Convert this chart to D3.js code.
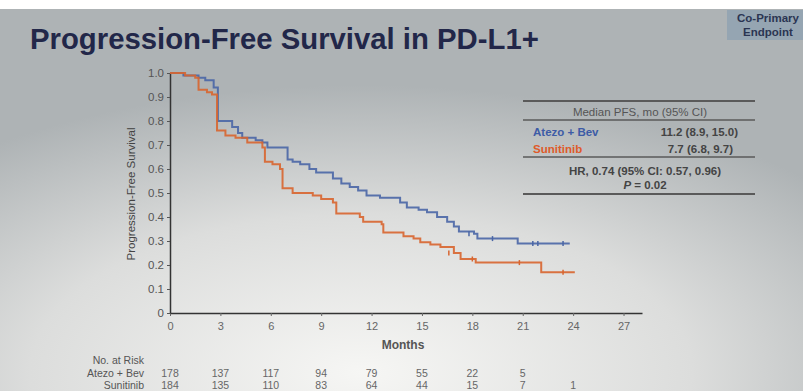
<!DOCTYPE html>
<html>
<head>
<meta charset="utf-8">
<script src="https://cdn.jsdelivr.net/npm/d3@7"></script>
<style>
  body { margin: 0; background: #fff; }
  svg { display: block; font-family: "Liberation Sans", Arial, sans-serif; }
</style>
</head>
<body>
<div id="chart"></div>
<script>
// KM steps: [month, survival after step]
var atezoSteps = [[0,1.0],[0.8,0.99],[1.7,0.98],[2.1,0.97],[2.6,0.94],[2.85,0.80],[3.7,0.775],[4.05,0.75],[4.3,0.73],
  [5.1,0.72],[5.5,0.71],[5.8,0.69],[7.0,0.64],[7.3,0.63],[7.75,0.62],[8.3,0.60],[8.7,0.585],[9.7,0.56],[10.2,0.54],
  [10.7,0.525],[11.2,0.51],[11.7,0.49],[12.5,0.48],[13.7,0.46],[14.1,0.44],[14.8,0.43],[15.3,0.42],[15.9,0.40],
  [16.5,0.38],[16.9,0.36],[17.2,0.34],[18.1,0.33],[18.3,0.31],[20.7,0.29],[23.8,0.29]];
var sunitinibSteps = [[0,1.0],[0.9,0.99],[1.5,0.98],[1.7,0.93],[2.2,0.92],[2.5,0.91],[2.8,0.76],[3.3,0.74],[3.9,0.73],
  [4.6,0.71],[5.5,0.69],[5.65,0.63],[6.1,0.62],[6.55,0.60],[6.7,0.52],[7.3,0.50],[8.5,0.49],[9.0,0.475],[9.7,0.46],
  [9.9,0.415],[11.3,0.40],[11.5,0.38],[12.6,0.37],[12.7,0.335],[13.9,0.32],[14.5,0.31],[14.9,0.295],[15.5,0.285],
  [16.1,0.275],[16.9,0.25],[17.3,0.225],[18.2,0.21],[22.1,0.17],[24.1,0.17]];
var atezoCensor = [[17.8,0.33],[19.2,0.31],[21.6,0.29],[21.9,0.29],[23.4,0.29]];
var sunitinibCensor = [[16.6,0.25],[18.0,0.225],[20.8,0.21],[23.4,0.17]];

var xTicks = [0,3,6,9,12,15,18,21,24,27];
var yTicks = [0,0.1,0.2,0.3,0.4,0.5,0.6,0.7,0.8,0.9,1.0];
var riskMonths = [0,3,6,9,12,15,18,21,24];
var atezoRisk = [178,137,117,94,79,55,22,5];
var sunitinibRisk = [184,135,110,83,64,44,15,7,1];

var blue = "#4a66a6", orange = "#d8652f";

var W = 803, H = 391;
var svg = d3.select("#chart").append("svg").attr("width", W).attr("height", H);

var defs = svg.append("defs");
var grad = defs.append("radialGradient").attr("id", "bg")
    .attr("cx", 0.45).attr("cy", 0.95).attr("r", 0.75);
grad.append("stop").attr("offset", "0%").attr("stop-color", "#f6f6f4");
grad.append("stop").attr("offset", "55%").attr("stop-color", "#dcdddc");
grad.append("stop").attr("offset", "100%").attr("stop-color", "#aeb3b5");

svg.append("rect").attr("width", W).attr("height", H).attr("fill", "#fff");
svg.append("rect").attr("y", 9).attr("width", W).attr("height", H - 9).attr("fill", "url(#bg)");

// title
svg.append("text").attr("x", 30).attr("y", 49)
    .attr("font-size", 29.3).attr("font-weight", "bold").attr("fill", "#222749")
    .text("Progression-Free Survival in PD-L1+");

// co-primary badge
svg.append("rect").attr("x", 727).attr("y", 10).attr("width", 76).attr("height", 30).attr("fill", "#95a5b2");
svg.append("text").attr("x", 768).attr("y", 22).attr("text-anchor", "middle")
    .attr("font-size", 11.5).attr("font-weight", "bold").attr("fill", "#2b3552").text("Co-Primary");
svg.append("text").attr("x", 768).attr("y", 36).attr("text-anchor", "middle")
    .attr("font-size", 11.5).attr("font-weight", "bold").attr("fill", "#2b3552").text("Endpoint");

var x = d3.scaleLinear().domain([0, 28.1]).range([170, 642]);
var y = d3.scaleLinear().domain([0, 1]).range([313, 73]);

var gx = svg.append("g").attr("transform", "translate(0," + y(0) + ")")
    .call(d3.axisBottom(x).tickValues(xTicks).tickSize(3).tickSizeOuter(0).tickPadding(6));
gx.select(".domain").attr("stroke", "#333").attr("stroke-width", 1.5);
gx.selectAll(".tick line").attr("stroke", "#666");
gx.selectAll(".tick text").attr("font-size", 11).attr("fill", "#666").attr("font-family", "Liberation Sans, Arial");

var gy = svg.append("g").attr("transform", "translate(" + x(0) + ",0)")
    .call(d3.axisLeft(y).tickValues(yTicks).tickSize(3).tickSizeOuter(0).tickPadding(3)
      .tickFormat(function (d) { return d === 0 ? "0" : d3.format(".1f")(d); }));
gy.select(".domain").attr("stroke", "#333").attr("stroke-width", 1.5);
gy.selectAll(".tick line").attr("stroke", "#555");
gy.selectAll(".tick text").attr("font-size", 11.5).attr("fill", "#555").attr("font-family", "Liberation Sans, Arial");

svg.append("text").attr("transform", "translate(135,194) rotate(-90)")
    .attr("text-anchor", "middle").attr("font-size", 11.5).attr("fill", "#444")
    .text("Progression-Free Survival");

svg.append("text").attr("x", 403).attr("y", 349).attr("text-anchor", "middle")
    .attr("font-size", 12).attr("font-weight", "bold").attr("fill", "#555").text("Months");

// curves
var line = d3.line().x(function (d) { return x(d[0]); }).y(function (d) { return y(d[1]); })
    .curve(d3.curveStepAfter);

[[atezoSteps, atezoCensor, blue], [sunitinibSteps, sunitinibCensor, orange]].forEach(function (s) {
  svg.append("path").datum(s[0]).attr("d", line)
      .attr("fill", "none").attr("stroke", s[2]).attr("stroke-width", 2).attr("opacity", 0.9);
  svg.selectAll(null).data(s[1]).enter().append("line")
      .attr("x1", function (d) { return x(d[0]); }).attr("x2", function (d) { return x(d[0]); })
      .attr("y1", function (d) { return y(d[1]) - 2.5; }).attr("y2", function (d) { return y(d[1]) + 2.5; })
      .attr("stroke", s[2]).attr("stroke-width", 1.5);
});

// stats table
var tbl = svg.append("g").attr("font-size", 11.5);
[101, 120, 157, 194].forEach(function (ly) {
  tbl.append("line").attr("x1", 523).attr("x2", 755).attr("y1", ly).attr("y2", ly)
      .attr("stroke", "#5a5a5a").attr("stroke-width", ly === 101 || ly === 194 ? 2 : 1.5);
});
tbl.append("text").attr("x", 640).attr("y", 116).attr("text-anchor", "middle").attr("fill", "#555")
    .text("Median PFS, mo (95% CI)");
tbl.append("text").attr("x", 533).attr("y", 136).attr("font-weight", "bold").attr("fill", "#3d5ba6").text("Atezo + Bev");
tbl.append("text").attr("x", 738).attr("y", 136).attr("text-anchor", "end").attr("font-weight", "bold").attr("fill", "#444")
    .text("11.2 (8.9, 15.0)");
tbl.append("text").attr("x", 533).attr("y", 153).attr("font-weight", "bold").attr("fill", "#df5a2a").text("Sunitinib");
tbl.append("text").attr("x", 733).attr("y", 153).attr("text-anchor", "end").attr("font-weight", "bold").attr("fill", "#444")
    .text("7.7 (6.8, 9.7)");
tbl.append("text").attr("x", 645).attr("y", 175).attr("text-anchor", "middle").attr("font-weight", "bold").attr("fill", "#444")
    .text("HR, 0.74 (95% CI: 0.57, 0.96)");
var pt = tbl.append("text").attr("x", 645).attr("y", 189).attr("text-anchor", "middle").attr("font-weight", "bold").attr("fill", "#444");
pt.append("tspan").attr("font-style", "italic").text("P");
pt.append("tspan").text(" = 0.02");

// number at risk
var riskFont = 10.5;
svg.append("text").attr("x", 144).attr("y", 364).attr("text-anchor", "end").attr("font-size", riskFont).attr("fill", "#555").text("No. at Risk");
svg.append("text").attr("x", 144).attr("y", 376.5).attr("text-anchor", "end").attr("font-size", riskFont).attr("fill", "#555").text("Atezo + Bev");
svg.append("text").attr("x", 144).attr("y", 389).attr("text-anchor", "end").attr("font-size", riskFont).attr("fill", "#555").text("Sunitinib");
[[atezoRisk, 376.5], [sunitinibRisk, 389]].forEach(function (r) {
  svg.selectAll(null).data(r[0]).enter().append("text")
      .attr("x", function (d, i) { return x(riskMonths[i]); }).attr("y", r[1])
      .attr("text-anchor", "middle").attr("font-size", riskFont).attr("fill", "#666")
      .text(function (d) { return d; });
});
</script>
</body>
</html>
